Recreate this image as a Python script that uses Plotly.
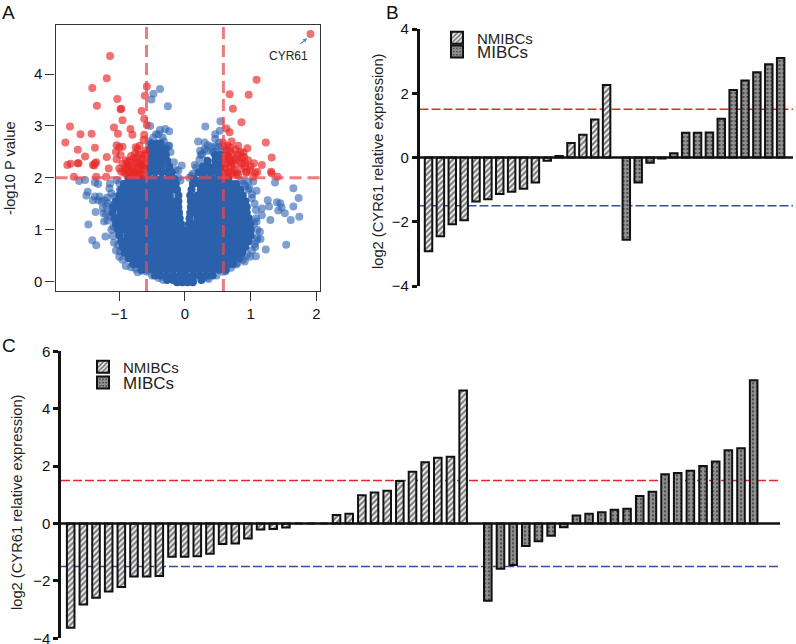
import plotly.graph_objects as go

W, H = 796, 644
FONT = "Liberation Sans"
BLACK = "#111111"

# Panel A: volcano plot
red_x = [1.91, -1.14, -1.19, -1.41, -1.34, -1.03, -0.98, -0.97, -0.95, -1.08, -1.02, -1.75, -1.59, -1.42, -1.82,
         -1.63, -1.37, -1.52, -1.19, -1.79, -1.74, -1.63, -1.62, -1.69, -1.40, -1.35, -1.37, -1.38, -1.16, -1.35,
         -1.20, -0.58, -0.61, -0.66, -0.62, -0.58, -0.83, -0.80, -0.62, -0.63, -1.04, -0.95, -1.00, -1.05, -0.98,
         -1.04, -0.90, -0.75, -0.69, -0.76, -0.78, -0.86, -0.91, -0.81, -0.73, -0.63, -0.68, -0.63, -0.76, -0.63,
         -0.97, -0.86, -0.71, -0.60, -0.84, -0.72, -0.95, -0.88, -0.66, -0.60, -0.79,
         -0.92, -0.88, -0.83, -0.80, -0.77, -0.74, -0.70, -0.67, -0.65, -0.64, -0.62, -0.70, -0.72, -0.82, -0.90,
         -0.61, -0.75, -0.69, -0.78, -0.87, -1.00, -0.65,
         0.68, 0.97, 1.09, 0.73, 0.86, 0.63, 0.68, 1.23, 0.71, 0.58, 0.95, 0.81, 1.32, 1.17, 1.31, 1.32, 1.41, 1.05,
         0.96, 0.84, 0.89, 0.63, 0.68, 0.66, 0.74, 0.63, 0.71, 0.86, 0.91, 0.99, 1.07, 0.79, 0.81, 0.63, 0.74,
         0.64, 0.70, 0.78, 0.62, 0.69, 0.60, 0.87, 0.94, 0.76, 0.66, 1.04,
         0.60, 0.62, 0.65, 0.67, 0.72, 0.75, 0.72, 0.80, 0.83, 0.85, 0.90, 0.92, 0.93, 1.00, 0.60, 0.62, 0.65, 0.77,
         0.70, 1.10]
red_y = [4.77, 4.35, 3.92, 3.73, 3.39, 3.52, 3.32, 3.33, 3.11, 2.97, 2.85, 2.99, 2.84, 2.85, 2.68,
         2.54, 2.58, 2.41, 2.40, 2.25, 2.27, 2.28, 2.28, 2.02, 2.25, 2.30, 2.28, 2.24, 2.18, 2.02,
         2.02, 3.76, 3.58, 3.29, 3.14, 3.02, 2.94, 2.83, 2.83, 2.73, 2.63, 2.60, 2.59, 2.50, 2.44,
         2.36, 2.34, 2.59, 2.62, 2.47, 2.38, 2.25, 2.14, 2.19, 2.29, 2.35, 2.25, 2.22, 2.11, 2.17,
         2.12, 2.12, 2.19, 2.44, 2.33, 2.40, 2.27, 2.05, 2.06, 2.52, 2.07,
         2.10, 2.18, 2.12, 2.22, 2.15, 2.10, 2.28, 2.15, 2.38, 2.05, 2.46, 2.45, 2.55, 2.42, 2.22,
         2.28, 2.30, 2.08, 2.06, 2.30, 2.18, 2.22,
         3.61, 3.60, 3.89, 3.33, 3.07, 2.95, 2.88, 2.68, 2.70, 2.68, 2.57, 2.62, 2.39, 2.25, 2.12, 2.09, 2.02, 2.28,
         2.34, 2.50, 2.49, 2.54, 2.51, 2.41, 2.34, 2.28, 2.28, 2.28, 2.22, 2.15, 2.09, 2.09, 2.06, 2.09, 2.15,
         2.44, 2.21, 2.38, 2.17, 2.58, 2.36, 2.40, 2.12, 2.05, 2.03, 2.02,
         2.60, 2.42, 2.30, 2.12, 2.45, 2.25, 2.10, 2.45, 2.33, 2.18, 2.40, 2.28, 2.10, 2.22, 2.18, 2.05, 2.62, 2.55,
         2.33, 2.12]

fringe_x = [-1.61, -1.52, -1.37, -1.32, -1.48, -1.50, -1.37, -1.40, -1.30, -1.22, -1.19, -1.36, -1.24, -1.14, -1.15,
            -1.04, -0.99, -1.07, -1.23, -1.14, -1.04, -1.47, -1.41, -1.35, -1.21, -1.02, -0.99, -1.09, -1.17, -1.27,
            -1.32, -1.12, -1.07, -0.66, -0.58, -0.29, -0.53, -0.38, -0.30, -0.24, -0.38, -0.48, -0.51, -0.26, -0.28,
            -0.05, -0.10, -0.44, -0.34, -0.25,
            -0.40, -0.32, -0.48, -0.55, -0.22, -0.17, -0.14, -0.10, -0.07, -0.24, -1.12, -1.18, -1.20, -1.18, -1.12,
            -1.10, -1.08, -1.05, -1.00, -0.95, -0.90, -0.82, -0.75, -0.72, -1.09, -1.25, -1.00, -0.40, -0.50, -0.33,
            1.37, 1.65, 1.73, 1.65, 1.74, 1.61, 1.52, 1.45, 1.40, 1.47, 1.42, 1.26, 1.28, 1.17, 1.17, 1.09, 1.30, 1.14,
            1.15, 1.23, 1.54, 1.08, 1.07, 0.96, 1.04, 1.09, 1.02, 0.89, 0.96, 1.09, 0.99, 0.91, 0.78, 0.85, 0.34, 0.58,
            0.31, 0.54, 0.53, 0.46, 0.46, 0.20, 0.30, 0.35, 0.23, 0.46, 0.51, 0.17, 0.10, 0.24, 0.33, 0.52, 0.44,
            0.26, 0.22, 0.15, 0.30, 0.40, 0.42, 0.12, 0.52, 0.56, 0.07, 0.85, 0.92, 0.98, 1.02, 1.06, 1.08, 1.08, 1.05,
            1.10, 1.10, 1.06, 1.02, 0.95, 0.88, 0.80, 0.70, 0.62, 0.48, 0.36]
fringe_y = [1.94, 1.96, 1.91, 1.88, 1.73, 1.66, 1.64, 1.57, 1.64, 1.57, 1.45, 1.34, 1.32, 1.89, 1.80,
            1.96, 1.77, 1.64, 1.16, 1.25, 1.12, 1.10, 0.80, 0.70, 0.87, 0.71, 0.58, 1.06, 1.51, 1.54,
            1.57, 1.38, 1.19, 0.21, 0.19, 0.08, 3.00, 2.92, 2.94, 2.90, 3.71, 3.62, 3.51, 3.38, 2.57,
            2.24, 2.14, 2.84, 2.78, 2.62,
            2.84, 2.70, 2.78, 2.70, 2.50, 2.30, 2.15, 2.00, 1.95, 2.62, 1.70, 1.62, 1.30, 1.18, 1.00,
            0.88, 0.75, 0.60, 0.48, 0.42, 0.30, 0.28, 0.25, 0.18, 1.48, 1.42, 1.90, 0.07, 0.12, 0.03,
            1.91, 1.80, 1.61, 1.45, 1.25, 1.19, 1.32, 1.51, 1.53, 1.43, 1.37, 1.57, 1.45, 1.41, 1.28, 1.16, 1.19, 0.96,
            0.82, 0.62, 0.71, 0.49, 0.67, 1.93, 1.93, 1.75, 1.61, 1.89, 1.77, 0.80, 0.48, 0.39, 0.33, 0.47, 0.08, 0.19,
            2.99, 3.09, 2.91, 2.84, 2.75, 2.70, 2.68, 2.63, 2.52, 2.60, 2.60, 2.20, 2.04, 2.44, 2.52, 2.68, 2.50,
            2.45, 2.35, 2.25, 2.55, 2.60, 2.50, 2.08, 2.45, 2.55, 2.00, 1.95, 1.85, 1.80, 1.68, 1.50, 1.38, 1.22, 1.12,
            1.00, 0.85, 0.72, 0.60, 0.52, 0.42, 0.36, 0.27, 0.20, 0.12, 0.05]

# Solid core of the cloud, one list of x values per y level
core_levels = [2.66, 2.55, 2.44, 2.33, 2.22, 2.11, 1.98, 1.88, 1.77, 1.66, 1.55, 1.44, 1.33, 1.22, 1.11,
               1.00, 0.89, 0.78, 0.67, 0.56, 0.45, 0.34, 0.23, 0.12, 0.03, -0.01]
core_x = [
    [-0.51, -0.42, -0.37],
    [-0.54, -0.45, -0.36, -0.30],
    [-0.53, -0.44, -0.35, -0.29, 0.46, 0.54],
    [-0.54, -0.45, -0.36, -0.27, 0.34, 0.46, 0.54],
    [-0.53, -0.44, -0.35, -0.24, 0.27, 0.36, 0.46, 0.54],
    [-0.54, -0.45, -0.35, -0.26, -0.20, 0.21, 0.30, 0.40, 0.50, 0.55],
    [-0.86, -0.76, -0.66, -0.56, -0.46, -0.36, -0.26, -0.16, 0.14, 0.26, 0.36, 0.46, 0.56, 0.66],
    [-0.93, -0.83, -0.73, -0.63, -0.53, -0.43, -0.33, -0.23, -0.14, 0.12, 0.22, 0.32, 0.42, 0.52, 0.62, 0.72, 0.78],
    [-0.97, -0.88, -0.78, -0.68, -0.58, -0.48, -0.38, -0.28, -0.18, -0.12, 0.10, 0.24, 0.34, 0.44, 0.54, 0.64, 0.74, 0.84],
    [-1.00, -0.93, -0.83, -0.73, -0.63, -0.53, -0.43, -0.33, -0.23, -0.10, 0.08, 0.19, 0.29, 0.39, 0.49, 0.59, 0.69, 0.79, 0.88],
    [-1.05, -0.98, -0.88, -0.78, -0.68, -0.58, -0.48, -0.38, -0.28, -0.18, -0.10, 0.09, 0.14, 0.24, 0.34, 0.44, 0.54, 0.64, 0.74, 0.84, 0.92],
    [-1.09, -1.03, -0.93, -0.83, -0.73, -0.63, -0.53, -0.43, -0.33, -0.23, -0.13, -0.10, 0.09, 0.19, 0.29, 0.39, 0.49, 0.59, 0.69, 0.79, 0.89, 0.94],
    [-1.10, -0.98, -0.88, -0.78, -0.68, -0.58, -0.48, -0.38, -0.28, -0.18, -0.09, 0.08, 0.14, 0.24, 0.34, 0.44, 0.54, 0.64, 0.74, 0.84, 0.94],
    [-1.07, -1.03, -0.93, -0.83, -0.73, -0.63, -0.53, -0.43, -0.33, -0.23, -0.13, -0.08, 0.07, 0.19, 0.29, 0.39, 0.49, 0.59, 0.69, 0.79, 0.89, 0.97],
    [-1.05, -0.98, -0.88, -0.78, -0.68, -0.58, -0.48, -0.38, -0.28, -0.18, -0.08, -0.06, 0.06, 0.14, 0.24, 0.34, 0.44, 0.54, 0.64, 0.74, 0.84, 0.94, 0.99],
    [-1.02, -0.93, -0.83, -0.73, -0.63, -0.53, -0.43, -0.33, -0.23, -0.13, -0.03, 0.07, 0.17, 0.27, 0.37, 0.47, 0.57, 0.67, 0.77, 0.87, 0.97, 1.00],
    [-1.00, -0.88, -0.78, -0.68, -0.58, -0.48, -0.38, -0.28, -0.18, -0.08, 0.02, 0.12, 0.22, 0.32, 0.42, 0.52, 0.62, 0.72, 0.82, 0.92, 1.00],
    [-0.97, -0.93, -0.83, -0.73, -0.63, -0.53, -0.43, -0.33, -0.23, -0.13, -0.03, 0.07, 0.17, 0.27, 0.37, 0.47, 0.57, 0.67, 0.77, 0.87, 0.97],
    [-0.95, -0.88, -0.78, -0.68, -0.58, -0.48, -0.38, -0.28, -0.18, -0.08, 0.02, 0.12, 0.22, 0.32, 0.42, 0.52, 0.62, 0.72, 0.82, 0.92],
    [-0.92, -0.83, -0.73, -0.63, -0.53, -0.43, -0.33, -0.23, -0.13, -0.03, 0.07, 0.17, 0.27, 0.37, 0.47, 0.57, 0.67, 0.77, 0.87],
    [-0.86, -0.78, -0.68, -0.58, -0.48, -0.38, -0.28, -0.18, -0.08, 0.02, 0.12, 0.22, 0.32, 0.42, 0.52, 0.62, 0.72, 0.82],
    [-0.79, -0.73, -0.63, -0.53, -0.43, -0.33, -0.23, -0.13, -0.03, 0.07, 0.17, 0.27, 0.37, 0.47, 0.57, 0.67, 0.73],
    [-0.66, -0.58, -0.48, -0.38, -0.28, -0.18, -0.08, 0.02, 0.12, 0.22, 0.32, 0.42, 0.52, 0.62],
    [-0.46, -0.38, -0.28, -0.18, -0.08, 0.02, 0.12, 0.22, 0.32, 0.42],
    [-0.27, -0.18, -0.08, 0.02, 0.12, 0.25],
    [-0.12, -0.04, 0.04, 0.12],
]

# Panel B
b_nmibc = [-2.92, -2.45, -2.08, -1.95, -1.37, -1.30, -1.14, -1.07, -0.97, -0.78, -0.10,
           0.05, 0.45, 0.71, 1.18, 2.26]
b_mibc = [-2.56, -0.78, -0.16, -0.03, 0.13, 0.77, 0.77, 0.78, 1.21, 2.10, 2.40, 2.65, 2.90, 3.10]

# Panel C
c_nmibc = [-3.63, -2.82, -2.59, -2.37, -2.21, -1.85, -1.85, -1.83, -1.16, -1.16, -1.14, -1.05, -0.71, -0.70,
           -0.52, -0.21, -0.19, -0.14, 0, 0, 0, 0.30, 0.34, 0.98, 1.08, 1.14, 1.48, 1.80, 2.13, 2.29, 2.33, 4.63]
c_mibc = [-2.69, -1.58, -1.45, -0.78, -0.62, -0.43, -0.13, 0.28, 0.34, 0.39, 0.48, 0.51, 0.96, 1.11, 1.72,
          1.76, 1.84, 2.00, 2.16, 2.55, 2.62, 4.99]

cutoff = 1.5
fc_cutoff = 0.585
p_cutoff = 2

ylabel = "log2 (CYR61 relative expression)"


def x_dom(left, right):
    return [left / W, right / W]


def y_dom(top, bottom):
    return [1 - bottom / H, 1 - top / H]


def add_bars(fig, values, start, xa, ya, name, pattern, legend, width):
    fig.add_trace(go.Bar(
        x=[start + i for i in range(len(values))],
        y=values,
        name=name,
        width=width,
        xaxis=xa,
        yaxis=ya,
        legend=legend,
        marker=dict(color="white", line=dict(color=BLACK, width=2), pattern=pattern),
    ))


# hatching for the two groups
hatch = dict(shape="/", size=4, solidity=0.6, fgcolor="black", bgcolor="white")
dots = dict(shape=".", size=4, solidity=0.8, fgcolor="white", bgcolor="#222222")

fig = go.Figure()

# volcano
fig.add_trace(go.Scatter(x=fringe_x, y=fringe_y, mode="markers", showlegend=False,
                         marker=dict(size=8, color="rgba(43,98,176,0.6)", line=dict(width=0))))
fig.add_trace(go.Scatter(
    x=[v for row in core_x for v in row],
    y=[lev for lev, row in zip(core_levels, core_x) for _ in row],
    mode="markers", showlegend=False,
    marker=dict(size=8, color="#2b60ab", line=dict(width=0)),
))
fig.add_trace(go.Scatter(x=red_x, y=red_y, mode="markers", showlegend=False,
                         marker=dict(size=8, color="rgba(232,40,40,0.66)", line=dict(width=0))))

add_bars(fig, b_nmibc, 0, "x2", "y2", "NMIBCs", hatch, "legend", 0.63)
add_bars(fig, b_mibc, 16.66, "x2", "y2", "MIBCs", dots, "legend2", 0.63)
add_bars(fig, c_nmibc, 0, "x3", "y3", "NMIBCs", hatch, "legend3", 0.6)
add_bars(fig, c_mibc, 32.95, "x3", "y3", "MIBCs", dots, "legend4", 0.6)

# dashed cut-offs in the volcano
for v in (-fc_cutoff, fc_cutoff):
    fig.add_shape(type="line", xref="x", yref="y domain", x0=v, x1=v, y0=0, y1=1,
                  line=dict(color="rgba(235,70,80,0.72)", width=3, dash="12px,6px"))
fig.add_shape(type="line", xref="x domain", yref="y", x0=0, x1=1, y0=p_cutoff, y1=p_cutoff,
              line=dict(color="rgba(235,70,80,0.72)", width=3, dash="12px,6px"))

# +/-1.5 lines sit behind the bars
for xa, ya in (("x2", "y2"), ("x3", "y3")):
    fig.add_shape(type="line", xref=xa + " domain", yref=ya, x0=0, x1=1, y0=cutoff, y1=cutoff,
                  layer="below", line=dict(color="#e8262a", width=1.6, dash="9px,3px"))
    fig.add_shape(type="line", xref=xa + " domain", yref=ya, x0=0, x1=1, y0=-cutoff, y1=-cutoff,
                  layer="below", line=dict(color="#2f4fa5", width=1.6, dash="9px,3px"))

title_font = dict(family=FONT, size=14.7, color="#222222")
tick_font = dict(family=FONT, size=15, color="#111111")
bar_yaxis = dict(
    showgrid=False, showline=True, linecolor=BLACK, linewidth=2.5, ticks="outside", ticklen=5, tickwidth=2.5,
    tickcolor=BLACK, tickfont=tick_font, zeroline=False, automargin=False, ticklabeloverflow="allow",
)
bar_xaxis = dict(
    showgrid=False, showline=False, showticklabels=False, ticks="", zeroline=False, automargin=False,
)

fig.update_layout(
    width=W, height=H, autosize=False,
    margin=dict(l=0, r=0, t=0, b=0),
    paper_bgcolor="white", plot_bgcolor="white",
    font=dict(family=FONT),
    barmode="overlay",
    xaxis=dict(domain=x_dom(55.5, 320), range=[-1.97, 2.055], tickvals=[-1, 0, 1, 2], ticks="outside",
               ticklen=9, tickwidth=1, tickcolor="#333333", tickfont=tick_font, showgrid=False, zeroline=False,
               showline=True, mirror=True, linecolor="#333333", linewidth=1.3, automargin=False),
    yaxis=dict(domain=y_dom(24.5, 291), range=[-0.18, 4.955], tickvals=[0, 1, 2, 3, 4], ticks="outside",
               ticklen=9, tickwidth=1, tickcolor="#333333", tickfont=tick_font, showgrid=False, zeroline=False,
               showline=True, mirror=True, linecolor="#333333", linewidth=1.3, automargin=False),
    xaxis2=dict(domain=x_dom(419.5, 793), range=[-0.76, 30.7], anchor="y2", **bar_xaxis),
    yaxis2=dict(domain=y_dom(29, 286), range=[-4, 4], anchor="x2", tickvals=[-4, -2, 0, 2, 4], **bar_yaxis),
    xaxis3=dict(domain=x_dom(61, 780), range=[-0.766, 56.03], anchor="y3", **bar_xaxis),
    yaxis3=dict(domain=y_dom(351.3, 638.3), range=[-4, 6], anchor="x3", tickvals=[-4, -2, 0, 2, 4, 6], **bar_yaxis),
    legend=dict(x=437 / W, y=1 - 38 / H, xanchor="left", yanchor="middle", bgcolor="rgba(0,0,0,0)",
                font=dict(family=FONT, size=15, color="#222222")),
    legend2=dict(x=437 / W, y=1 - 52 / H, xanchor="left", yanchor="middle", bgcolor="rgba(0,0,0,0)",
                 font=dict(family=FONT, size=17, color="#222222")),
    legend3=dict(x=83 / W, y=1 - 367 / H, xanchor="left", yanchor="middle", bgcolor="rgba(0,0,0,0)",
                 font=dict(family=FONT, size=15, color="#222222")),
    legend4=dict(x=83 / W, y=1 - 383 / H, xanchor="left", yanchor="middle", bgcolor="rgba(0,0,0,0)",
                 font=dict(family=FONT, size=17, color="#222222")),
)

# baselines at zero, on top of the bar outlines
for xa, ya in (("x2", "y2"), ("x3", "y3")):
    fig.add_shape(type="line", xref=xa + " domain", yref=ya, x0=0, x1=1, y0=0, y1=0,
                  line=dict(color=BLACK, width=2.3))

# axis titles placed by hand, they are not centred on their axes in the original
for text, px, py in (("-log10 P value", 10, 168), (ylabel, 378, 161), (ylabel, 17, 502)):
    fig.add_annotation(xref="paper", yref="paper", x=px / W, y=1 - py / H, text=text, textangle=-90,
                       xanchor="center", yanchor="middle", showarrow=False, font=title_font)

# gene label and its small arrow
fig.add_annotation(xref="x", yref="y", x=1.57, y=4.35, text="CYR61", showarrow=False,
                   font=dict(family=FONT, size=12, color="#222222"))
fig.add_annotation(xref="x", yref="y", x=1.86, y=4.69, ax=-10, ay=8, text=" ", showarrow=True,
                   arrowhead=2, arrowsize=0.7, arrowwidth=1.2, arrowcolor="#4a90c8")

# panel letters
for letter, px, py in (("A", 8, 12), ("B", 392, 12), ("C", 9, 345)):
    fig.add_annotation(xref="paper", yref="paper", x=px / W, y=1 - py / H, text=letter, showarrow=False,
                       xanchor="center", yanchor="middle", font=dict(family=FONT, size=19, color="#111111"))

# the page's default body margin would shift the whole figure by 8px
fig.write_html("out.html", config=dict(displayModeBar=False), post_script="document.body.style.margin='0';")
